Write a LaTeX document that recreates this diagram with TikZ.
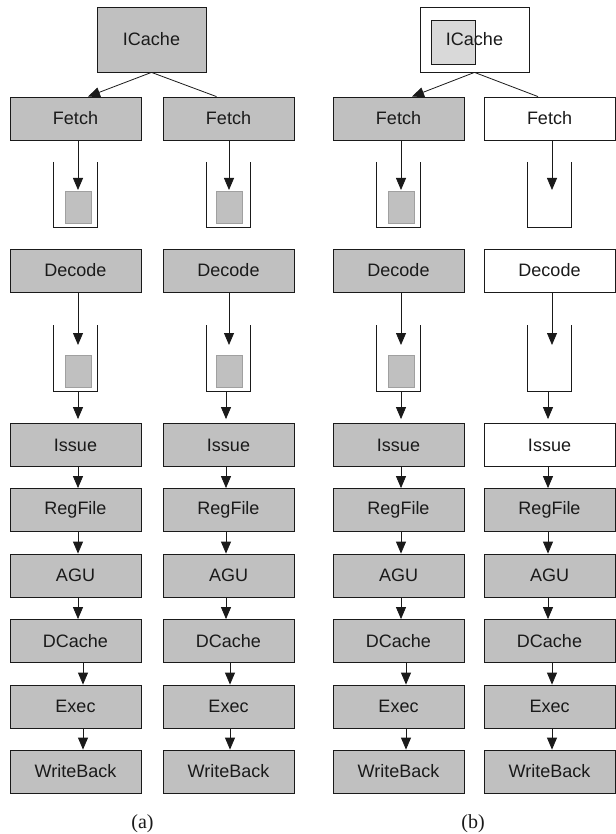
\documentclass[tikz,border=0pt]{standalone}
\usepackage{fontspec}
\setmainfont{Liberation Sans}
\newfontfamily\capfont{Liberation Serif}
\usetikzlibrary{arrows.meta}
\definecolor{stagegray}{HTML}{C0C0C0}
\definecolor{slotgray}{HTML}{C0C0C0}
\definecolor{slotedge}{HTML}{A0A0A0}
\definecolor{tagfill}{HTML}{D9D9D9}
\definecolor{ink}{HTML}{1A1A1A}
\begin{document}
\begin{tikzpicture}[x=1pt,y=-1pt,line width=0.8pt,
  stage/.style={draw=ink,fill=stagegray,minimum width=131pt,minimum height=43pt,
    inner sep=0pt,font=\fontsize{18}{21}\selectfont,text=ink},
  cachebox/.style={stage,minimum width=109pt,minimum height=65pt},
  arr/.style={draw=ink,-{Triangle[length=12pt,width=10pt]}},
  link/.style={draw=ink},
  wall/.style={draw=ink},
  slot/.style={draw=slotedge,fill=slotgray},
  caption/.style={font=\capfont\fontsize{20}{24}\selectfont,text=ink}]
\useasboundingbox (0,0) rectangle (615,834);

% instruction caches
\node[cachebox] (Ia) at (151.5,39.5) {ICache};
\node[cachebox,fill=white,
  path picture={\draw[draw=ink,fill=tagfill]
    ([shift={(11pt,-13pt)}]path picture bounding box.north west) rectangle
    ([shift={(55pt,-57pt)}]path picture bounding box.north west);}]
  (Ib) at (474.5,39.5) {ICache};

% pipeline columns: name / centre x / fill of front end / arrow offsets / slot shown
\foreach \col/\cx/\fc/\oa/\ob/\qo/\sq in {
    a1/75.5/stagegray/2.5/7.5/2.5/1,
    a2/228.5/stagegray/-2.5/1.5/0.5/1,
    b1/398.5/stagegray/2.5/7.5/2.5/1,
    b2/549.5/white/-1.5/2.5/2.5/0}{
  \node[stage,fill=\fc] (F\col) at (\cx,118.5) {Fetch};
  \node[stage,fill=\fc] (D\col) at (\cx,270.5) {Decode};
  \node[stage,fill=\fc] (I\col) at (\cx,445) {Issue};
  \node[stage] (R\col) at (\cx,510) {RegFile};
  \node[stage] (A\col) at (\cx,575.5) {AGU};
  \node[stage] (C\col) at (\cx,641) {DCache};
  \node[stage] (E\col) at (\cx,706.5) {Exec};
  \node[stage] (W\col) at (\cx,771.5) {WriteBack};
  % fetch queue
  \draw[wall] (\cx-22,162) -- (\cx-22,227) -- (\cx+22,227) -- (\cx+22,162);
  \coordinate (Qa\col) at (\cx+\qo,190);
  \ifnum\sq=1 \draw[slot] (\cx+\qo-13,191) rectangle (\cx+\qo+13,223); \fi
  \draw[arr] ([xshift=\qo pt]F\col.south) -- (Qa\col);
  % decode queue
  \draw[wall] (\cx-22,325) -- (\cx-22,391) -- (\cx+22,391) -- (\cx+22,325);
  \coordinate (Qb\col) at (\cx+\qo,345);
  \coordinate (Qc\col) at (\cx+\oa,391);
  \ifnum\sq=1 \draw[slot] (\cx+\qo-13,355) rectangle (\cx+\qo+13,387); \fi
  \draw[arr] ([xshift=\qo pt]D\col.south) -- (Qb\col);
  \draw[arr,shorten >=4pt] (Qc\col) -- ([xshift=\oa pt]I\col.north);
  % back end
  \draw[arr] ([xshift=\oa pt]I\col.south) -- ([xshift=\oa pt]R\col.north);
  \draw[arr] ([xshift=\oa pt]R\col.south) -- ([xshift=\oa pt]A\col.north);
  \draw[arr] ([xshift=\oa pt]A\col.south) -- ([xshift=\oa pt]C\col.north);
  \draw[arr] ([xshift=\ob pt]C\col.south) -- ([xshift=\ob pt]E\col.north);
  \draw[arr] ([xshift=\ob pt]E\col.south) -- ([xshift=\ob pt]W\col.north);
}

% cache to fetch
\draw[arr] (Ia.south) -- ([xshift=12.5pt]Fa1.north);
\draw[link] (Ia.south) -- ([xshift=-12pt]Fa2.north);
\draw[arr] (Ib.south) -- ([xshift=13.5pt]Fb1.north);
\draw[link] (Ib.south) -- ([xshift=-11.5pt]Fb2.north);

% captions
\node[caption] (capa) at (142.5,824) {(a)};
\node[caption] (capb) at (473,824) {(b)};
\end{tikzpicture}
\end{document}
